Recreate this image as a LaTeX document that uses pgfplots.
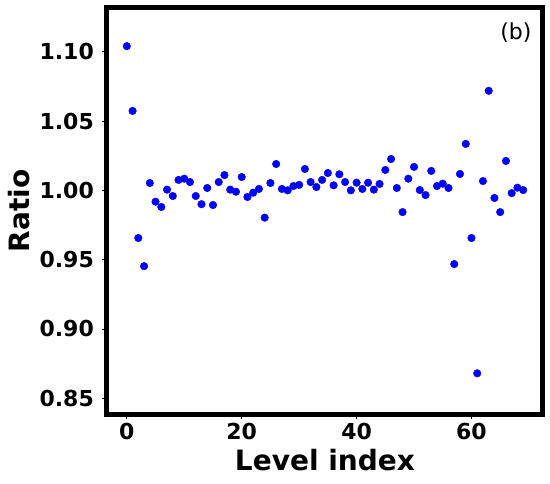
\documentclass[border=0pt]{standalone}
\usepackage{pgfplots}
\pgfplotsset{compat=1.18}
\usepackage{fontspec}
\setmainfont{DejaVu Sans}

\pgfplotstableread{
idx ratio
0 1.104
1 1.0573
2 0.9656
3 0.9453
4 1.0053
5 0.9918
6 0.988
7 1.0005
8 0.9959
9 1.0075
10 1.0084
11 1.006
12 0.9959
13 0.990
14 1.0017
15 0.9894
16 1.006
17 1.011
18 1.0005
19 0.999
20 1.0096
21 0.9952
22 0.9983
23 1.001
24 0.9803
25 1.0053
26 1.019
27 1.001
28 1.000
29 1.0031
30 1.0039
31 1.0154
32 1.006
33 1.0024
34 1.0075
35 1.0125
36 1.0036
37 1.0116
38 1.006
39 1.000
40 1.0055
41 1.001
42 1.0055
43 1.0005
44 1.0046
45 1.0147
46 1.0226
47 1.0017
48 0.9843
49 1.0084
50 1.0169
51 1.0002
52 0.9966
53 1.014
54 1.0031
55 1.0048
56 1.0017
57 0.9468
58 1.0118
59 1.0335
60 0.9656
61 0.868
62 1.0067
63 1.0718
64 0.9945
65 0.9843
66 1.0212
67 0.998
68 1.0019
69 1.0002
}\ratiodata

\begin{document}
\begin{tikzpicture}
\useasboundingbox (0,0) rectangle (550pt,484pt);
\begin{axis}[
  at={(107pt,69.5pt)}, anchor=south west,
  scale only axis, width=436pt, height=407pt,
  xmin=-3.45, xmax=72.45, ymin=0.8383, ymax=1.1319,
  xtick={0,20,40,60}, ytick={0.85,0.90,0.95,1.00,1.05,1.10},
  yticklabel style={/pgf/number format/fixed,/pgf/number format/precision=2,
    /pgf/number format/fixed zerofill},
  /pgf/number format/assume math mode=true,
  tick label style={font=\fontsize{22}{22}\selectfont\bfseries, inner sep=0pt},
  xticklabel shift=3.8pt, yticklabel shift=8pt,
  tick align=outside, major tick length=5pt,
  tick style={black, line width=0.8pt},
  xtick pos=bottom, ytick pos=left,
  axis line style={line width=5pt},
  xlabel={Level index}, ylabel={Ratio},
  label style={font=\fontsize{28}{28}\selectfont\bfseries},
  xlabel style={at={(axis description cs:0.5,-0.1364)}, anchor=base},
  ylabel style={at={(axis description cs:-0.1766,0.5)}, anchor=base},
]
\addplot[only marks, mark=*, mark size=3.8pt, color={rgb,255:red,0;green,0;blue,255}]
  table[x=idx, y=ratio] {\ratiodata};
\node[anchor=north east, inner sep=0pt, font=\fontsize{22}{22}\selectfont]
  at (rel axis cs:0.974,0.962) {(b)};
\end{axis}
\end{tikzpicture}
\end{document}
